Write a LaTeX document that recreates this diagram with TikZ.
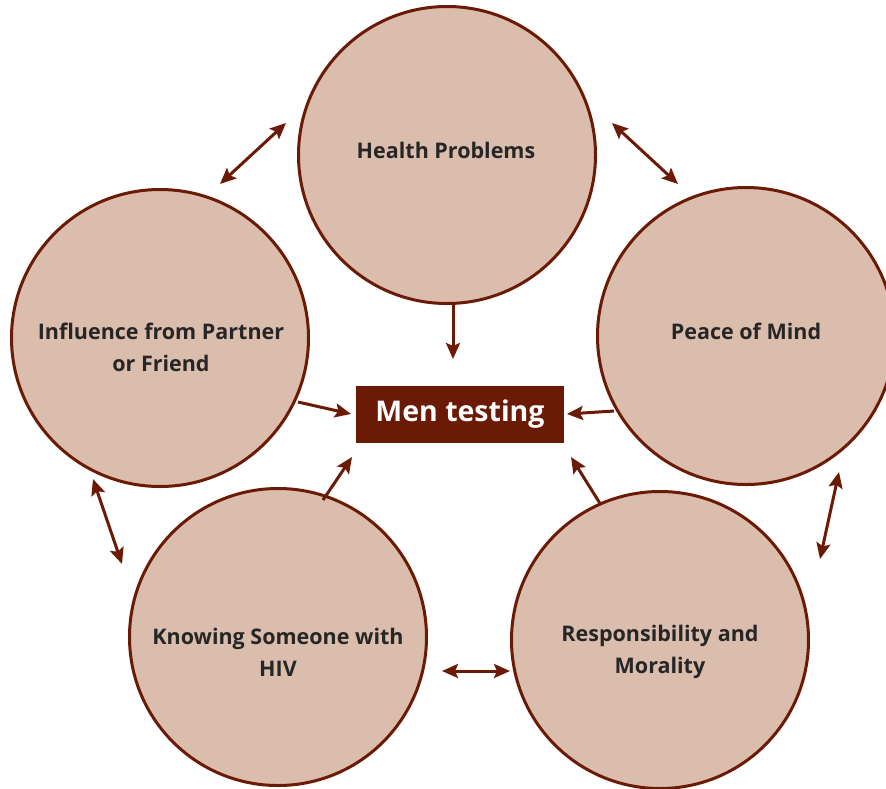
\documentclass[tikz,border=0pt]{standalone}
\usepackage{fontspec}
\setmainfont{Open Sans}
\usetikzlibrary{arrows.meta}
\definecolor{circfill}{HTML}{DBBDAD}
\definecolor{darkred}{HTML}{6B1A05}
\definecolor{txt}{HTML}{262626}
\tikzset{
  bubble/.style={circle, draw=darkred, fill=circfill, line width=3pt, minimum size=297pt, inner sep=0pt},
  btext/.style={text=txt, font=\bfseries\fontsize{21.5}{32}\selectfont, align=center},
  conn/.style={draw=darkred, line width=3pt, -{Stealth[length=16pt,width=14pt,inset=3pt]}},
  dconn/.style={draw=darkred, line width=3pt, {Stealth[length=16pt,width=14pt,inset=3pt]}-{Stealth[length=16pt,width=14pt,inset=3pt]}},
}
\begin{document}
\begin{tikzpicture}[x=1pt,y=-1pt]
\clip (0,0) rectangle (886,788);
\fill[white] (0,0) rectangle (886,788);
\node[bubble] (hp) at (447,155) {};
\node[bubble] (pm) at (746,336) {};
\node[bubble] (inf) at (160,338) {};
\node[bubble] (kn) at (278,637) {};
\node[bubble] (rm) at (660,640) {};
\node[btext] (thp) at (446,150) {Health Problems};
\node[btext] (tpm) at (746,331) {Peace of Mind};
\node[btext] (tinf) at (161,347) {Influence from Partner\\or Friend};
\node[btext] (tkn) at (278,652) {Knowing Someone with\\HIV};
\node[btext] (trm) at (660,652) {Responsibility and\\Morality};
\node[fill=darkred, minimum width=208pt, minimum height=57pt, inner sep=0pt, text=white, font=\bfseries\fontsize{28.5}{30}\selectfont] (box) at (460,414.5) {Men testing};
% single arrows
\coordinate (a1s) at (453,305); \coordinate (a1e) at (453,359);
\coordinate (a2s) at (614,411); \coordinate (a2e) at (567,414);
\coordinate (a3s) at (601,505); \coordinate (a3e) at (571,457);
\coordinate (a4s) at (323,500); \coordinate (a4e) at (352,457);
\coordinate (a5s) at (298,402); \coordinate (a5e) at (351,414);
\draw[conn] (a1s) -- (a1e);
\draw[conn] (a2s) -- (a2e);
\draw[conn] (a3s) -- (a3e);
\draw[conn] (a4s) -- (a4e);
\draw[conn] (a5s) -- (a5e);
% double arrows
\coordinate (d1s) at (220,184); \coordinate (d1e) at (286,123);
\coordinate (d2s) at (612,123); \coordinate (d2e) at (678,184);
\coordinate (d3s) at (839,472); \coordinate (d3e) at (820,559);
\coordinate (d4s) at (442,671); \coordinate (d4e) at (510,671);
\coordinate (d5s) at (93,479); \coordinate (d5e) at (122,564);
\draw[dconn] (d1s) -- (d1e);
\draw[dconn] (d2s) -- (d2e);
\draw[dconn] (d3s) -- (d3e);
\draw[dconn] (d4s) -- (d4e);
\draw[dconn] (d5s) -- (d5e);
\end{tikzpicture}
\end{document}
